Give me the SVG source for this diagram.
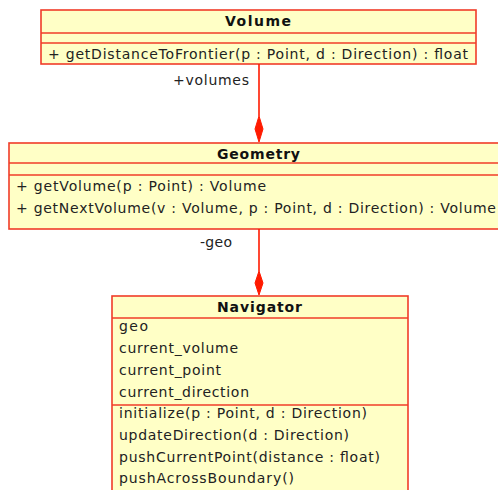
<svg xmlns="http://www.w3.org/2000/svg" width="498" height="490" viewBox="0 0 498 490">
<style>
.box{fill:#ffffc6;stroke:#f03c28;stroke-width:1.6}
.sep{stroke:#f03c28;stroke-width:1.6}
text{font-family:"DejaVu Sans",sans-serif;font-size:14px;fill:#222}
.t{font-weight:bold;fill:#111}
.conn{stroke:#ff1a00;stroke-width:1.6;fill:none}
.dia{fill:#ff1a00;stroke:#ff1a00}
</style>
<rect width="498" height="490" fill="#fff"/>
<g id="Volume">
<rect class="box" x="41" y="10" width="435" height="54"/>
<line class="sep" x1="41" y1="33" x2="476" y2="33"/>
<line class="sep" x1="41" y1="43" x2="476" y2="43"/>
<text class="t" x="225" y="26" textLength="66" lengthAdjust="spacing">Volume</text>
<text x="48" y="59" textLength="420" lengthAdjust="spacing">+ getDistanceToFrontier(p : Point, d : Direction) : float</text>
</g>
<g id="Geometry">
<rect class="box" x="9" y="143" width="500" height="86"/>
<line class="sep" x1="9" y1="163" x2="498" y2="163"/>
<line class="sep" x1="9" y1="175" x2="498" y2="175"/>
<text class="t" x="217" y="159" textLength="83" lengthAdjust="spacing">Geometry</text>
<text x="16" y="191" textLength="250" lengthAdjust="spacing">+ getVolume(p : Point) : Volume</text>
<text x="16" y="213" textLength="480" lengthAdjust="spacing">+ getNextVolume(v : Volume, p : Point, d : Direction) : Volume</text>
</g>
<g id="Navigator">
<rect class="box" x="112" y="296" width="296" height="210"/>
<line class="sep" x1="112" y1="318" x2="408" y2="318"/>
<line class="sep" x1="112" y1="405" x2="408" y2="405"/>
<text class="t" x="217" y="312" textLength="85" lengthAdjust="spacing">Navigator</text>
<text x="119" y="331" textLength="29" lengthAdjust="spacing">geo</text>
<text x="119" y="353" textLength="119" lengthAdjust="spacing">current_volume</text>
<text x="119" y="375" textLength="102" lengthAdjust="spacing">current_point</text>
<text x="119" y="397" textLength="130" lengthAdjust="spacing">current_direction</text>
<text x="119" y="418" textLength="248" lengthAdjust="spacing">initialize(p : Point, d : Direction)</text>
<text x="119" y="440" textLength="230" lengthAdjust="spacing">updateDirection(d : Direction)</text>
<text x="119" y="462" textLength="261" lengthAdjust="spacing">pushCurrentPoint(distance : float)</text>
<text x="119" y="483" textLength="175" lengthAdjust="spacing">pushAcrossBoundary()</text>
</g>
<g id="connectors">
<line class="conn" x1="259" y1="64" x2="259" y2="116"/>
<polygon class="dia" points="259,116 263,129 259,142 255,129"/>
<text x="173" y="85" textLength="76" lengthAdjust="spacing">+volumes</text>
<line class="conn" x1="259" y1="229" x2="259" y2="271"/>
<polygon class="dia" points="259,271 263,283 259,295 255,283"/>
<text x="200" y="247" textLength="32" lengthAdjust="spacing">-geo</text>
</g>
</svg>
